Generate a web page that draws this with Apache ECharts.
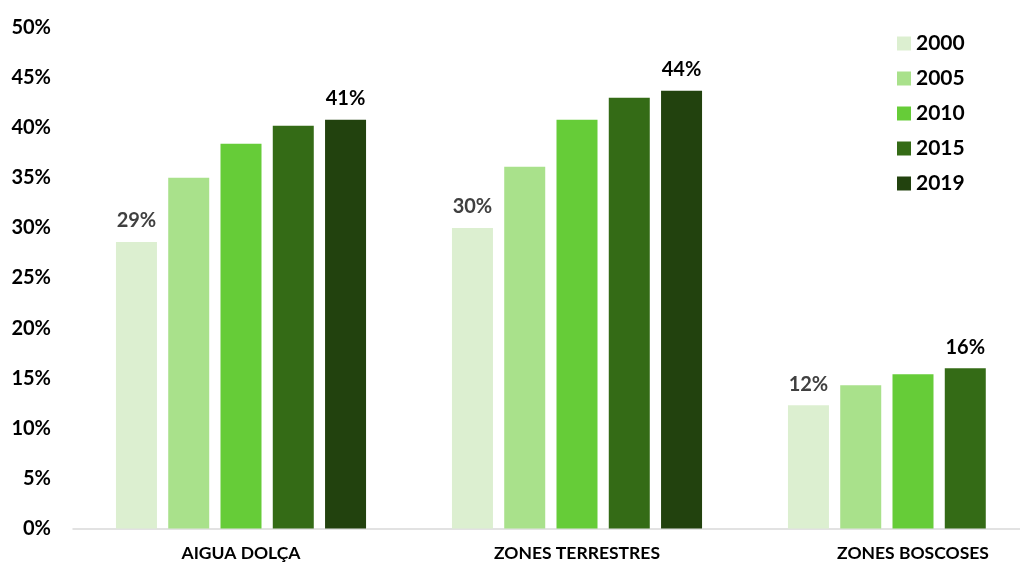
<!DOCTYPE html>
<html>
<head>
<meta charset="utf-8">
<script src="https://cdn.jsdelivr.net/npm/echarts@6/dist/echarts.min.js"></script>
<style>html,body{margin:0;padding:0;background:#fff;overflow:hidden;width:1020px;height:564px}#c{width:1081px;height:564px}</style>
</head>
<body>
<div id="c"></div>
<script>
const categories = ['AIGUA DOLÇA', 'ZONES TERRESTRES', 'ZONES BOSCOSES'];
const years = ['2000', '2005', '2010', '2015', '2019'];
const v2000 = [28.6, 30.0, 12.3];
const v2005 = [35.0, 36.1, 14.3];
const v2010 = [38.4, 40.8, 15.4];
const v2015 = [40.2, 43.0, 16.0];
const v2019 = [40.8, 43.7, null];
const colors = ['#DCEFD0', '#A9E18B', '#66CC38', '#346B16', '#22420E'];
const yTicks = [0, 5, 10, 15, 20, 25, 30, 35, 40, 45, 50];

const FONT = 'Lato';
const seriesValues = [v2000, v2005, v2010, v2015, v2019];
function labelFlags(si) {
  return categories.map((c, ci) => {
    if (si === 0) return true;
    let last = -1;
    for (let k = 0; k < seriesValues.length; k++) if (seriesValues[k][ci] != null) last = k;
    return last === si;
  });
}
const series = years.map((y, si) => {
  const flags = labelFlags(si);
  return {
    name: y,
    type: 'bar',
    barWidth: 41,
    barGap: '27.5%',
    itemStyle: { color: colors[si] },
    data: seriesValues[si].map((v, ci) => ({
      value: v,
      label: {
        show: flags[ci] && v != null,
        position: 'top',
        distance: 11,
        formatter: p => Math.round(p.value) + '%',
        color: si === 0 ? '#404040' : '#000',
        fontFamily: FONT, fontWeight: 'bold', fontSize: 20
      }
    }))
  };
});

const chart = echarts.init(document.getElementById('c'), null, { renderer: 'canvas' });
chart.setOption({
  animation: false,
  color: colors,
  grid: { left: 73, right: 0, top: 27.5, bottom: 35.5, containLabel: false },
  legend: {
    orient: 'vertical', left: 897, top: 33, padding: 0,
    icon: 'rect', itemWidth: 14, itemHeight: 14, itemGap: 14,
    textStyle: { fontFamily: FONT, fontWeight: 'bold', fontSize: 21, color: '#000' },
    data: years
  },
  xAxis: {
    type: 'category', data: categories,
    axisLine: { lineStyle: { color: '#d9d9d9', width: 1.5 } },
    axisTick: { show: false },
    axisLabel: { fontFamily: FONT, fontWeight: 'bold', fontSize: 17.5, color: '#000', margin: 16 }
  },
  yAxis: {
    type: 'value', min: yTicks[0], max: yTicks[yTicks.length - 1], interval: yTicks[1] - yTicks[0],
    splitLine: { show: false },
    axisLine: { show: false }, axisTick: { show: false },
    axisLabel: { fontFamily: FONT, fontWeight: 'bold', fontSize: 20, color: '#000', margin: 22, formatter: v => v + '%' }
  },
  series: series
});
</script>
</body>
</html>
